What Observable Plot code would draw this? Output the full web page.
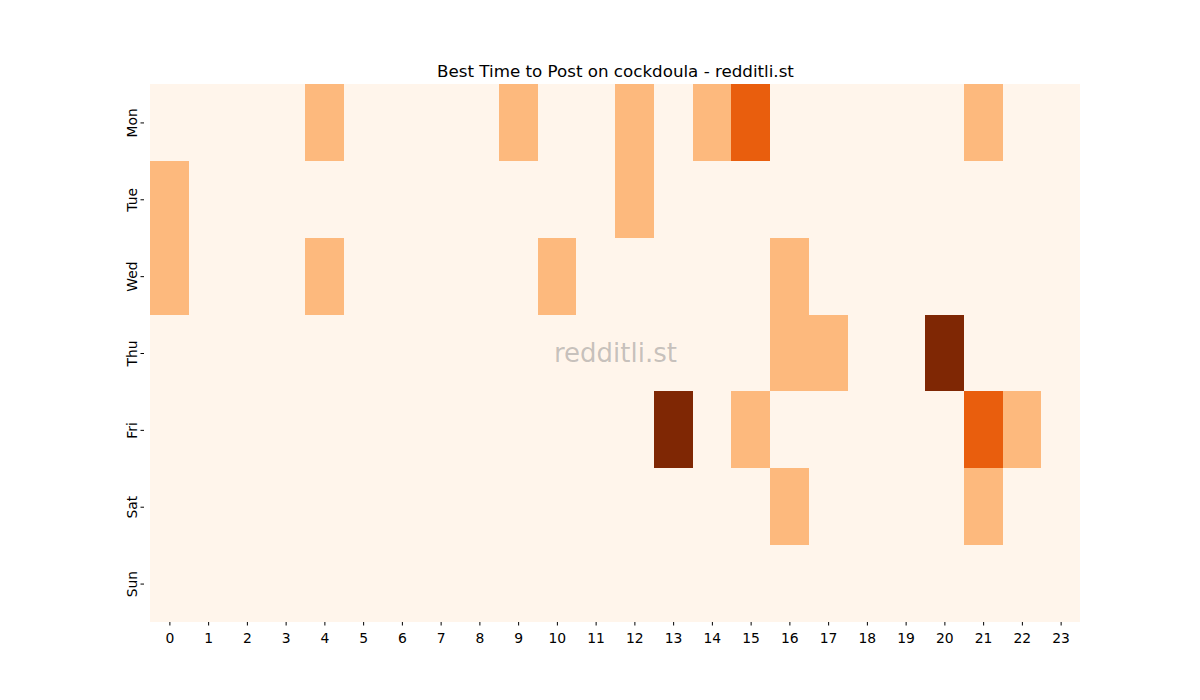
<!DOCTYPE html>
<html>
<head>
<meta charset="utf-8">
<script src="https://cdn.jsdelivr.net/npm/d3@7"></script>
<script src="https://cdn.jsdelivr.net/npm/@observablehq/plot@0.6"></script>
<style>
  html, body { margin: 0; padding: 0; background: #fff; }
  svg { display: block; }
</style>
</head>
<body>
<div id="chart"></div>
<script>
const days = ["Mon", "Tue", "Wed", "Thu", "Fri", "Sat", "Sun"];
const hours = [0,1,2,3,4,5,6,7,8,9,10,11,12,13,14,15,16,17,18,19,20,21,22,23];
const mon = [0,0,0,0,1,0,0,0,0,1,0,0,1,0,1,2,0,0,0,0,0,1,0,0];
const tue = [1,0,0,0,0,0,0,0,0,0,0,0,1,0,0,0,0,0,0,0,0,0,0,0];
const wed = [1,0,0,0,1,0,0,0,0,0,1,0,0,0,0,0,1,0,0,0,0,0,0,0];
const thu = [0,0,0,0,0,0,0,0,0,0,0,0,0,0,0,0,1,1,0,0,3,0,0,0];
const fri = [0,0,0,0,0,0,0,0,0,0,0,0,0,3,0,1,0,0,0,0,0,2,1,0];
const sat = [0,0,0,0,0,0,0,0,0,0,0,0,0,0,0,0,1,0,0,0,0,1,0,0];
const sun = [0,0,0,0,0,0,0,0,0,0,0,0,0,0,0,0,0,0,0,0,0,0,0,0];
const levels = [0, 1, 2, 3];
const levelColors = ["#fff5eb", "#fdb97d", "#e95e0d", "#7f2704"];
const title = "Best Time to Post on cockdoula - redditli.st";
const watermark = "redditli.st";

const rows = [mon, tue, wed, thu, fri, sat, sun];
const cells = [];
rows.forEach((r, i) => r.forEach((v, h) => cells.push({day: days[i], hour: hours[h], value: v})));

const font = "DejaVu Sans, sans-serif";
const chart = Plot.plot({
  width: 1200,
  height: 700,
  marginLeft: 150,
  marginRight: 120,
  marginTop: 84,
  marginBottom: 78,
  style: {fontFamily: font, fontSize: "13.9px", color: "#000", background: "#fff"},
  x: {type: "band", domain: hours, padding: 0, round: false},
  y: {type: "band", domain: days, padding: 0, round: false},
  color: {type: "ordinal", domain: levels, range: levelColors},
  marks: [
    Plot.cell(cells, {x: "hour", y: "day", fill: "value", inset: 0, shapeRendering: "crispEdges"}),
    Plot.axisX({ticks: hours, tickSize: 3.5, tickPadding: 7, label: null, fontSize: 13.9, stroke: "#000"}),
    Plot.axisY({ticks: days, tickSize: 3.5, tickPadding: 4.5, tickRotate: -90, dx: -6, label: null, fontSize: 13.9, stroke: "#000"}),
    Plot.text([watermark], {frameAnchor: "middle", text: d => d, fontSize: 26, fill: "#808080", fillOpacity: 0.45}),
    Plot.text([title], {frameAnchor: "top", text: d => d, dy: -8, lineAnchor: "bottom", fontSize: 16.7, fill: "#000"})
  ]
});
document.getElementById("chart").appendChild(chart);
</script>
</body>
</html>
